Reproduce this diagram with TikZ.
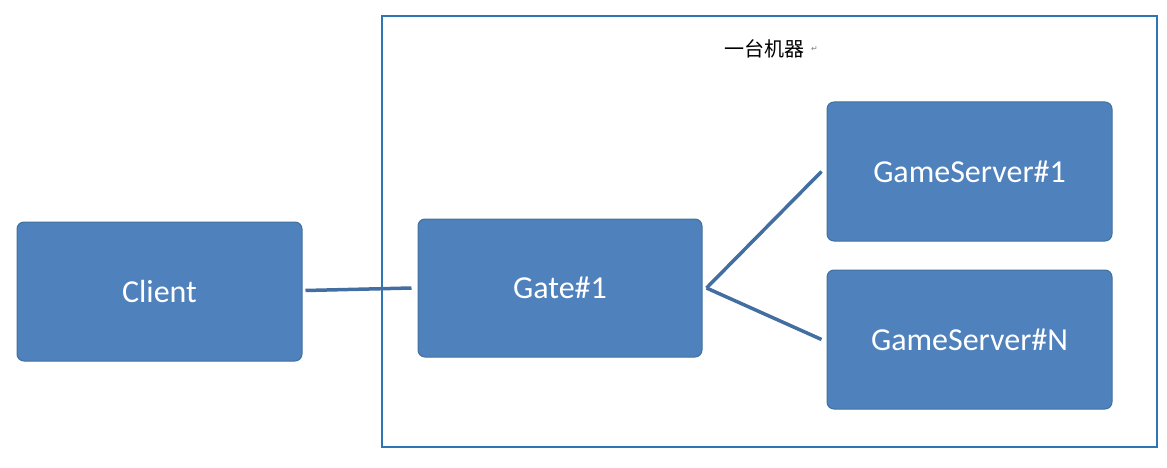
\documentclass[tikz,border=0pt]{standalone}
\usepackage{fontspec}
\setmainfont{Carlito}
\newfontfamily\cjk{Noto Sans CJK SC}
\newfontfamily\dvs{DejaVu Sans}
\definecolor{boxfill}{HTML}{4F81BD}
\definecolor{boxline}{HTML}{41719C}
\definecolor{frameline}{HTML}{2E75B6}
\begin{document}
\begin{tikzpicture}[x=1pt,y=-1pt,
  box/.style={draw=boxline,fill=boxfill,rounded corners=7pt,line width=1pt,text=white,font=\fontsize{32}{36}\selectfont},
  conn/.style={draw=boxfill!85!black,line width=3.5pt}]
\useasboundingbox (0,0) rectangle (1167,468);
\draw[frameline,line width=1.5pt] (382,16) rectangle (1157,447);
\node[font=\cjk\fontsize{20}{24}\selectfont] (title) at (764,49) {一台机器};
\node[font=\dvs\fontsize{8}{9}\selectfont,gray,anchor=west] (mark) at (title.east) {↵};
\node[box,minimum width=285pt,minimum height=139pt] (client) at (159.5,291.5) {Client};
\node[box,minimum width=284pt,minimum height=138pt] (gate) at (560,288) {Gate\#1};
\node[box,minimum width=285pt,minimum height=139pt] (gs1) at (969.5,171.5) {GameServer\#1};
\node[box,minimum width=285pt,minimum height=139pt] (gsn) at (969.5,339.5) {GameServer\#N};
\coordinate (gr) at ([xshift=4pt]gate.east);
\draw[conn] ([xshift=3pt,yshift=1pt]client.east) -- ([xshift=-6pt]gate.west);
\draw[conn] (gr) -- ([xshift=-5pt]gs1.west);
\draw[conn] (gr) -- ([xshift=-5pt]gsn.west);
\end{tikzpicture}
\end{document}
